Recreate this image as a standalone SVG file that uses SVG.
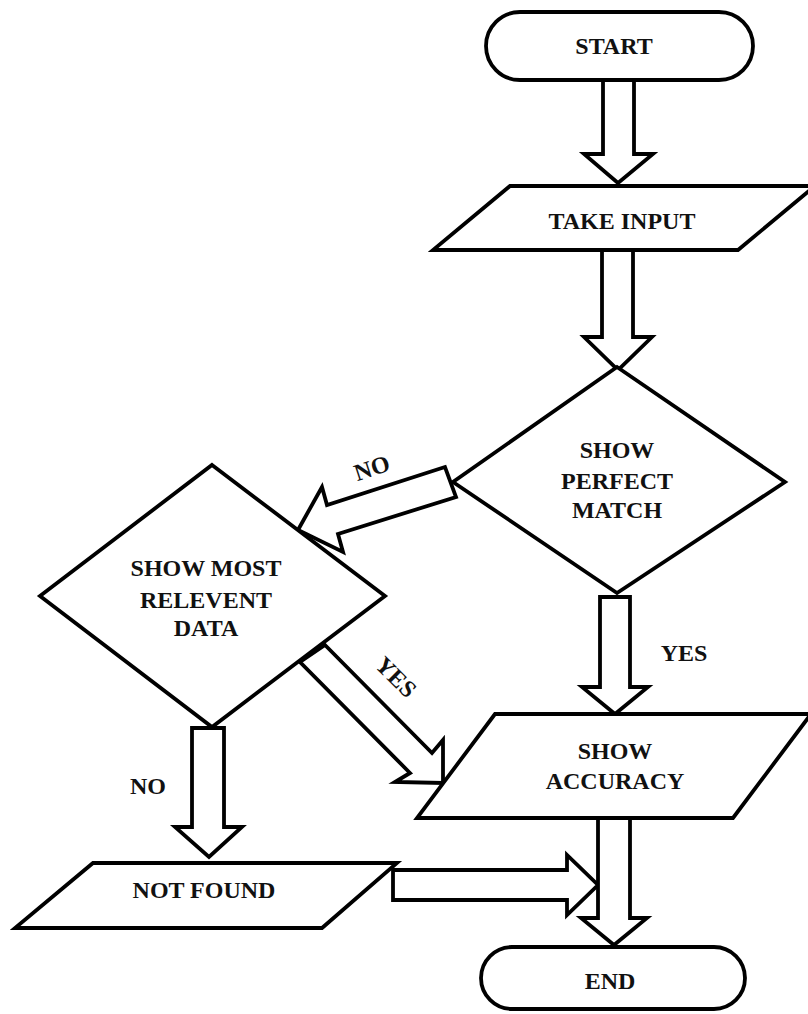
<svg xmlns="http://www.w3.org/2000/svg" width="808" height="1014" viewBox="0 0 808 1014">
<style>
.s{fill:#fff;stroke:#000;stroke-width:3.8;stroke-linejoin:miter}
.t{font-family:"Liberation Serif","Times New Roman",serif;font-weight:bold;font-size:24px;fill:#111;text-anchor:middle}
</style>
<rect width="808" height="1014" fill="#fff"/>
<g id="connectors">
<polygon class="s" points="603,80 603,154 584,154 618,183 653,154 634,154 634,80"/>
<polygon class="s" points="602,250 602,337 584,337 618,370 652,337 633,337 633,250"/>
<polygon class="s" points="600,597 600,687 582,687 615,714 648,687 630,687 630,597"/>
<polygon class="s" points="445,467 327,505 322,487 298,530 343,552 338,534 456,497"/>
<polygon class="s" points="325,645 432,753 443,740 443,783 395,782 410,773 300,662"/>
<polygon class="s" points="192,728 192,827 175,827 209,857 242,827 224,827 224,728"/>
<polygon class="s" points="393,870 567,870 567,855 598,885 567,915 567,900 393,900"/>
<polygon class="s" points="598,818 598,918 581,918 614,945 647,918 630,918 630,818"/>
<text class="t" transform="translate(372,468) rotate(-18)" y="8">NO</text>
<text class="t" transform="translate(396,677) rotate(45)" y="8">YES</text>
<text class="t" x="684" y="661">YES</text>
<text class="t" x="148" y="794">NO</text>
</g>
<g id="start">
<rect class="s" x="486" y="12" width="267" height="68" rx="34"/>
<text class="t" x="614" y="54">START</text>
</g>
<g id="take-input">
<polygon class="s" points="510,186 815,186 738,250 433,250"/>
<text class="t" x="622" y="229">TAKE INPUT</text>
</g>
<g id="perfect-match">
<polygon class="s" points="617,367 785,482 617,593 453,482"/>
<text class="t" x="617" y="458">SHOW</text>
<text class="t" x="617" y="489">PERFECT</text>
<text class="t" x="617" y="518">MATCH</text>
</g>
<g id="most-relevant">
<polygon class="s" points="212,465 385,596 212,727 40,596"/>
<text class="t" x="206" y="576">SHOW MOST</text>
<text class="t" x="206" y="608">RELEVENT</text>
<text class="t" x="206" y="636">DATA</text>
</g>
<g id="show-accuracy">
<polygon class="s" points="495,714 811,714 733,818 417,818"/>
<text class="t" x="615" y="759">SHOW</text>
<text class="t" x="615" y="789">ACCURACY</text>
</g>
<g id="not-found">
<polygon class="s" points="93,863 397,863 322,928 15,928"/>
<text class="t" x="204" y="898">NOT FOUND</text>
</g>
<g id="end">
<rect class="s" x="481" y="947" width="264" height="62" rx="31"/>
<text class="t" x="610" y="989">END</text>
</g>
</svg>
